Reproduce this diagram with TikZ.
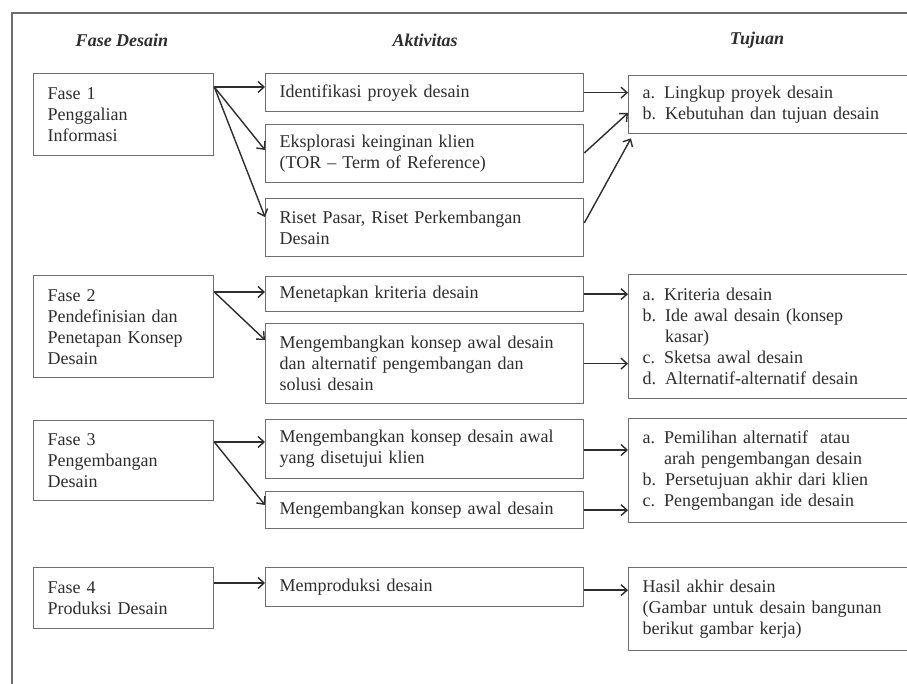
\documentclass[tikz,border=0pt]{standalone}
\usepackage{fontspec}
\setmainfont{Liberation Serif}
\usetikzlibrary{arrows.meta}
\definecolor{boxline}{HTML}{6E6E6E}
\definecolor{ink}{HTML}{2E2E2E}
\begin{document}
\begin{tikzpicture}[x=1pt,y=-1pt,
  box/.style={draw=boxline, line width=1.3pt, rectangle, anchor=north west,
    inner xsep=14pt, inner ysep=0pt, align=left, text=ink,
    font=\fontsize{18}{21}\selectfont},
  phase/.style={box, minimum width=180pt, text width=152pt},
  act/.style={box, minimum width=318pt, text width=290pt},
  goal/.style={box, minimum width=290pt, text width=262pt},
  head/.style={font=\fontsize{18}{21}\selectfont\bfseries\itshape, text=ink},
  flow/.style={draw=ink, line width=1.4pt, -{Straight Barb[length=6pt,width=11pt]}},
]
\clip (0,0) rectangle (907,684);
\fill[white] (0,0) rectangle (907,684);
% page frame (top and left edges)
\draw[boxline, line width=2pt] (12,684) -- (12,13) -- (907,13);

% column headings
\node[head] (h1) at (122,40) {Fase Desain};
\node[head] (h2) at (425,40) {Aktivitas};
\node[head] (h3) at (757,40) {Tujuan};

% phases
\node[phase, minimum height=82pt]  (f1) at (33,73)  {Fase 1\\Penggalian\\Informasi};
\node[phase, minimum height=102pt] (f2) at (33,275) {Fase 2\\Pendefinisian dan\\Penetapan Konsep\\Desain};
\node[phase, minimum height=80pt]  (f3) at (33,420) {Fase 3\\Pengembangan\\Desain};
\node[phase, minimum height=61pt]  (f4) at (33,567) {Fase 4\\Produksi Desain};

% activities
\node[act, minimum height=38pt] (a1) at (265,73)  {Identifikasi proyek desain};
\node[act, minimum height=58pt] (a2) at (265,124) {Eksplorasi keinginan klien\\(TOR -- Term of Reference)};
\node[act, minimum height=58pt] (a3) at (265,198) {Riset Pasar, Riset Perkembangan\\Desain};
\node[act, minimum height=35pt] (a4) at (265,276) {Menetapkan kriteria desain};
\node[act, minimum height=80pt] (a5) at (265,323) {Mengembangkan konsep awal desain\\dan alternatif pengembangan dan\\solusi desain};
\node[act, minimum height=59pt] (a6) at (265,419) {Mengembangkan konsep desain awal\\yang disetujui klien};
\node[act, minimum height=37pt] (a7) at (265,491) {Mengembangkan konsep awal desain};
\node[act, minimum height=39pt] (a8) at (265,567) {Memproduksi desain};

% goals
\node[goal, minimum height=58pt]  (g1) at (628,75)  {a. Lingkup proyek desain\\b. Kebutuhan dan tujuan desain};
\node[goal, minimum height=124pt] (g2) at (628,274) {a. Kriteria desain\\b. Ide awal desain (konsep\\\phantom{b. }kasar)\\c. Sketsa awal desain\\d. Alternatif-alternatif desain};
\node[goal, minimum height=104pt] (g3) at (628,418) {a. Pemilihan alternatif\ \ atau\\\phantom{a. }arah pengembangan desain\\b. Persetujuan akhir dari klien\\c. Pengembangan ide desain};
\node[goal, minimum height=83pt]  (g4) at (628,567) {Hasil akhir desain\\(Gambar untuk desain bangunan\\berikut gambar kerja)};

% phase -> activities
\draw[flow] ([yshift=-14pt]f1.north east) -- ([yshift=-14pt]a1.north west);
\draw[flow] ([yshift=-14pt]f1.north east) -- ([yshift=-26pt]a2.north west);
\draw[flow] ([yshift=-14pt]f1.north east) -- ([yshift=-19pt]a3.north west);
\draw[flow] ([yshift=-17pt]f2.north east) -- ([yshift=-17pt]f2.north east -| a4.west);
\draw[flow] ([yshift=-17pt]f2.north east) -- ([yshift=-17pt]a5.north west);
\draw[flow] ([yshift=-22pt]f3.north east) -- ([yshift=-23pt]a6.north west);
\draw[flow] ([yshift=-22pt]f3.north east) -- ([yshift=-14pt]a7.north west);
\draw[flow] ([yshift=-16pt]f4.north east) -- ([yshift=-16pt]a8.north west);

% activities -> goals
\draw[flow] (a1.east) -- (a1.east -| g1.west);
\draw[flow] ([yshift=-29pt]a2.north east) -- ([yshift=-38pt]g1.north west);
\draw[flow] ([yshift=-25pt]a3.north east) -- ([xshift=3pt,yshift=-4pt]g1.south west);
\draw[flow] (a4.east) -- (a4.east -| g2.west);
\draw[flow] (a5.east) -- (a5.east -| g2.west);
\draw[flow] ([yshift=-31pt]a6.north east) -- ([yshift=-31pt]a6.north east -| g3.west);
\draw[flow] (a7.east) -- (a7.east -| g3.west);
\draw[flow] ([yshift=-3pt]a8.east) -- ([yshift=-3pt]a8.east -| g4.west);
\end{tikzpicture}
\end{document}
